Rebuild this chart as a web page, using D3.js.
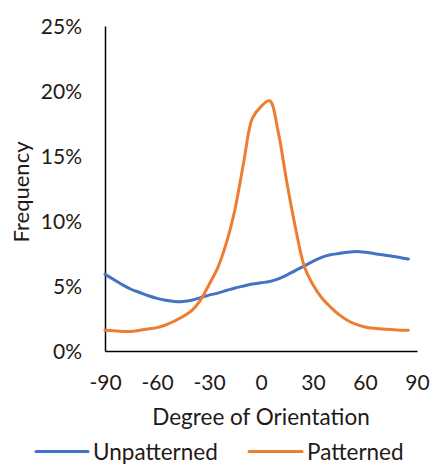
<!DOCTYPE html>
<html><head><meta charset="utf-8">
<script src="https://cdn.jsdelivr.net/npm/d3@7"></script>
<style>body{margin:0;background:#fff}svg{display:block}text{font-family:Lato,"Open Sans",sans-serif;fill:#1f1a17}</style>
</head><body>
<svg id="c" width="434" height="464"></svg>
<script>
const degrees = [-90,-85,-80,-75,-70,-65,-60,-55,-50,-45,-40,-35,-30,-25,-20,-15,-10,-5,0,5,10,15,20,25,30,35,40,45,50,55,60,65,70,75,80,85];
const unpatterned = [5.9,5.5,5.1,4.75,4.5,4.25,4.05,3.9,3.8,3.8,3.9,4.1,4.3,4.45,4.65,4.85,5.0,5.15,5.25,5.35,5.55,5.85,6.2,6.55,6.9,7.2,7.4,7.5,7.6,7.65,7.6,7.5,7.4,7.3,7.2,7.08];
const patterned = [1.6,1.55,1.5,1.5,1.6,1.7,1.8,2.0,2.3,2.65,3.1,3.9,5.1,6.4,8.3,10.9,14.5,17.9,18.8,19.25,16.8,12.9,9.4,6.5,5.1,4.1,3.4,2.8,2.35,2.05,1.85,1.75,1.7,1.65,1.6,1.6];
const xTicks = [-90,-60,-30,0,30,60,90];
const yTicks = [0,5,10,15,20,25];
const seriesNames = ["Unpatterned","Patterned"];
const colors = ["#4472C4","#ED7D31"];

const svg = d3.select("#c");
const x = d3.scaleLinear().domain([-90,90]).range([105,417]);
const y = d3.scaleLinear().domain([0,25]).range([351,26]);

// axes
const xAxis = svg.append("g").attr("transform","translate(0,351)")
  .call(d3.axisBottom(x).tickValues(xTicks).tickSize(0).tickPadding(0).tickFormat(d=>String(d)));
xAxis.select(".domain").attr("stroke","#000").attr("stroke-width",1.5);
xAxis.selectAll("text").attr("dy",null).attr("y",39).style("font-size","21px").attr("fill","#1f1a17");

const yAxis = svg.append("g").attr("transform","translate(105,0)")
  .call(d3.axisLeft(y).tickValues(yTicks).tickSize(0).tickPadding(0).tickFormat(d=>d+"%"));
yAxis.select(".domain").attr("stroke","#000").attr("stroke-width",1.5);
yAxis.selectAll("text").attr("x",-23).attr("dy","0.36em").style("font-size","21px").attr("fill","#1f1a17");

// lines
const line = d3.line().x((d,i)=>x(degrees[i])).y(d=>y(d)).curve(d3.curveCatmullRom.alpha(0.5));
[unpatterned, patterned].forEach((s,i)=>{
  svg.append("path").datum(s).attr("d",line).attr("fill","none")
    .attr("stroke",colors[i]).attr("stroke-width",3).attr("stroke-linecap","round").attr("stroke-linejoin","round");
});

// titles
svg.append("text").attr("x",261).attr("y",425).attr("text-anchor","middle").style("font-size","22.5px").text("Degree of Orientation");
svg.append("text").attr("transform","translate(29,192) rotate(-90)").attr("text-anchor","middle").style("font-size","22px").text("Frequency");

// legend
const leg = [{x1:36,x2:88,tx:93},{x1:249,x2:302,tx:307}];
seriesNames.forEach((n,i)=>{
  svg.append("line").attr("x1",leg[i].x1).attr("x2",leg[i].x2).attr("y1",451.5).attr("y2",451.5)
    .attr("stroke",colors[i]).attr("stroke-width",3).attr("stroke-linecap","round");
  svg.append("text").attr("x",leg[i].tx).attr("y",459.5).style("font-size","22.5px").text(n);
});
</script>
</body></html>
